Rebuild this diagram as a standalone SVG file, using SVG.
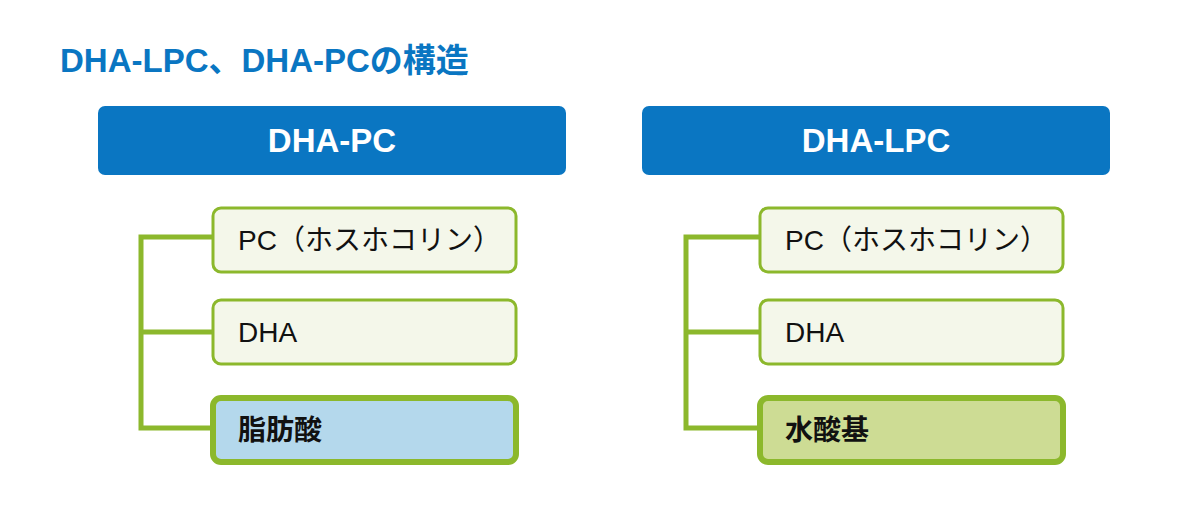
<svg xmlns="http://www.w3.org/2000/svg" width="1200" height="506" viewBox="0 0 1200 506">
<style>
text{font-family:"Liberation Sans","Noto Sans CJK JP",sans-serif}
.hd{fill:#0a76c2}
.hdt{fill:#fff;font-size:33px;font-weight:bold;text-anchor:middle}
.bx{fill:#f4f7ea;stroke:#8cb82c;stroke-width:3}
.bb{stroke:#8cb82c;stroke-width:6}
.t{font-size:28px;fill:#111}
.tb{font-size:28px;fill:#111;font-weight:bold}
.ln{fill:none;stroke:#8cb82c;stroke-width:5}
</style>
<rect width="1200" height="506" fill="#fff"/>
<text x="60" y="72" font-size="33" font-weight="bold" fill="#0a76c2">DHA-LPC、DHA-PCの構造</text>
<g id="connectors">
<path class="ln" d="M213 237H141V428H213M141 332H213"/>
<path class="ln" d="M760 237H686V428H760M686 332H760"/>
</g>
<g id="h1"><rect class="hd" x="98" y="106" width="468" height="69" rx="7"/><text class="hdt" x="332" y="152">DHA-PC</text></g>
<g id="h2"><rect class="hd" x="642" y="106" width="468" height="69" rx="7"/><text class="hdt" x="876" y="152">DHA-LPC</text></g>
<g id="l1"><rect class="bx" x="213" y="208" width="303" height="64" rx="8"/><text class="t" x="238" y="250">PC（ホスホコリン）</text></g>
<g id="l2"><rect class="bx" x="213" y="300" width="303" height="64" rx="8"/><text class="t" x="238" y="342">DHA</text></g>
<g id="l3"><rect class="bb" fill="#b4d8ec" x="213" y="398" width="303" height="64" rx="8"/><text class="tb" x="238" y="440">脂肪酸</text></g>
<g id="r1"><rect class="bx" x="760" y="208" width="303" height="64" rx="8"/><text class="t" x="785" y="250">PC（ホスホコリン）</text></g>
<g id="r2"><rect class="bx" x="760" y="300" width="303" height="64" rx="8"/><text class="t" x="785" y="342">DHA</text></g>
<g id="r3"><rect class="bb" fill="#cddc94" x="760" y="398" width="303" height="64" rx="8"/><text class="tb" x="785" y="440">水酸基</text></g>
</svg>
